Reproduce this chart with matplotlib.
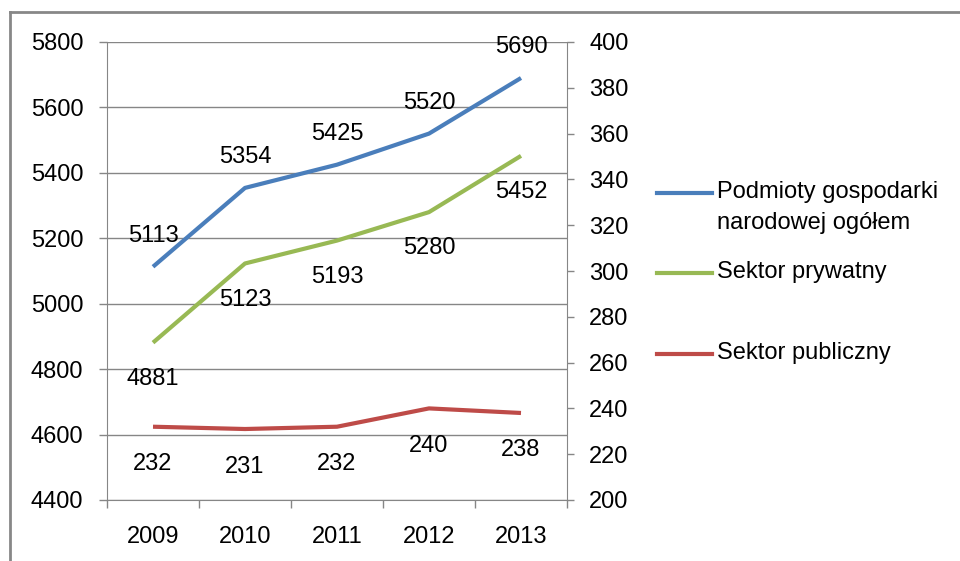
import matplotlib.pyplot as plt
from matplotlib.lines import Line2D

plt.rcParams['font.family'] = ['Liberation Sans', 'DejaVu Sans']

years = ['2009', '2010', '2011', '2012', '2013']
ogolem = [5113, 5354, 5425, 5520, 5690]
prywatny = [4881, 5123, 5193, 5280, 5452]
publiczny = [232, 231, 232, 240, 238]

labels = ['Podmioty gospodarki\nnarodowej ogółem', 'Sektor prywatny', 'Sektor publiczny']
colors = ['#4A7EBB', '#98B954', '#BE4B48']

grey = '#868686'
fs = 17

fig = plt.figure(figsize=(9.6, 5.61), dpi=100)
ax = fig.add_axes([107/960, 61/561, 460/960, 458/561])
ax2 = ax.twinx()

x = list(range(len(years)))
ax.plot(x, ogolem, color=colors[0], lw=3, solid_capstyle='butt', zorder=3)
ax.plot(x, prywatny, color=colors[1], lw=3, solid_capstyle='butt', zorder=3)
ax2.plot(x, publiczny, color=colors[2], lw=3, solid_capstyle='butt', zorder=3)

for xi, v in zip(x, ogolem):
    ax.annotate(str(v), (xi, v), xytext=(0, 22), textcoords='offset points',
                ha='center', va='center', fontsize=fs, color='black')
for xi, v in zip(x, prywatny):
    ax.annotate(str(v), (xi, v), xytext=(0, -26), textcoords='offset points',
                ha='center', va='center', fontsize=fs, color='black')
for xi, v in zip(x, publiczny):
    ax2.annotate(str(v), (xi, v), xytext=(0, -27), textcoords='offset points',
                 ha='center', va='center', fontsize=fs, color='black')

ax.set_xlim(-0.5, 4.5)
ax.set_ylim(4400, 5800)
ax.set_yticks(range(4400, 5801, 200))
ax2.set_ylim(200, 400)
ax2.set_yticks(range(200, 401, 20))

ax.set_xticks([i - 0.5 for i in range(6)])
ax.set_xticklabels([])
ax.set_xticks(x, minor=True)
ax.set_xticklabels(years, minor=True)
ax.tick_params(axis='x', which='major', length=6, width=1, color=grey, direction='out')
ax.tick_params(axis='x', which='minor', length=0, pad=19, labelsize=fs)
ax.tick_params(axis='y', length=6, width=1, color=grey, pad=11, labelsize=fs)
ax2.tick_params(axis='y', length=5, width=1, color=grey, pad=11, labelsize=fs)

ax.grid(axis='y', color=grey, lw=1)
for a in (ax, ax2):
    for s in a.spines.values():
        s.set_visible(False)
ax.spines['left'].set_visible(True)
ax.spines['left'].set_color(grey)
ax.spines['bottom'].set_visible(True)
ax.spines['bottom'].set_color(grey)
ax2.spines['right'].set_visible(True)
ax2.spines['right'].set_color(grey)

# outer chart border
fig.add_artist(Line2D([10/960, 10/960], [0, 1 - 12/561], transform=fig.transFigure,
                      color='#878787', lw=2))
fig.add_artist(Line2D([10/960, 1], [1 - 12/561, 1 - 12/561], transform=fig.transFigure,
                      color='#878787', lw=2))

# legend
leg_y = [193, 273, 354]
for lab, c, yy in zip(labels, colors, leg_y):
    yf = 1 - yy/561
    fig.add_artist(Line2D([657/960, 712/960], [yf, yf], transform=fig.transFigure,
                          color=c, lw=3))
    fig.text(717/960, 1 - (yy - 12)/561, lab, ha='left', va='top', fontsize=fs,
             linespacing=1.5)

fig.savefig('out.png', dpi=100)
